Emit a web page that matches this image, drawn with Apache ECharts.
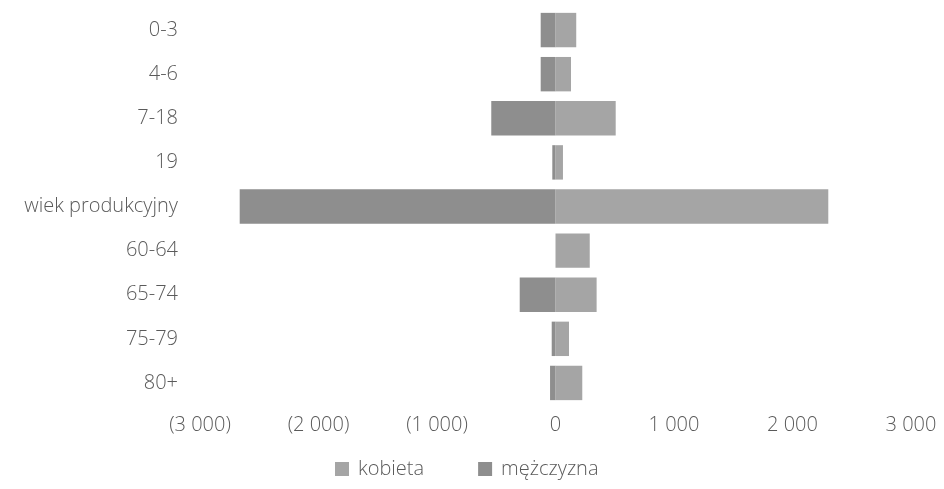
<!DOCTYPE html>
<html><head><meta charset="utf-8">
<script src="https://cdn.jsdelivr.net/npm/echarts@6/dist/echarts.min.js"></script>
<style>html,body{margin:0;padding:0;background:#fff}#c{width:944px;height:489px}</style>
</head><body><div id="c"></div>
<script>
const categories = ['0-3','4-6','7-18','19','wiek produkcyjny','60-64','65-74','75-79','80+'];
const kobieta = [175, 131, 508, 63, 2302, 289, 347, 114, 226];
const mezczyzna = [-125, -125, -542, -27, -2665, 0, -302, -32, -46];
const xTicks = {min: -3000, max: 3000, interval: 1000};

function fmt(v){
  const a = Math.abs(v);
  const s = a >= 1000 ? Math.floor(a/1000) + ' ' + String(a%1000).padStart(3,'0') : String(a);
  return v < 0 ? '(' + s + ')' : s;
}

const chart = echarts.init(document.getElementById('c'));
chart.setOption({
  backgroundColor: '#fff',
  animation: false,
  textStyle: {fontFamily: 'Open Sans'},
  grid: {left: 200, right: 33, top: 8, bottom: 84, containLabel: false},
  legend: {
    top: 454, left: 330,
    itemWidth: 14, itemHeight: 14, itemGap: 54,
    icon: 'rect',
    textStyle: {color: '#5a5a5a', fontSize: 20, fontWeight: 300, fontFamily: 'Open Sans', padding: [0,0,0,4]},
    data: ['kobieta','mężczyzna']
  },
  xAxis: {
    type: 'value', min: xTicks.min, max: xTicks.max, interval: xTicks.interval,
    axisLine: {show: false}, axisTick: {show: false}, splitLine: {show: false},
    axisLabel: {formatter: fmt, color: '#5a5a5a', fontSize: 20, fontWeight: 300, margin: 10}
  },
  yAxis: {
    type: 'category', data: categories, inverse: true,
    axisLine: {show: false}, axisTick: {show: false}, splitLine: {show: false},
    axisLabel: {color: '#5a5a5a', fontSize: 20, fontWeight: 300, margin: 22}
  },
  series: [
    {name: 'kobieta', type: 'bar', data: kobieta, barWidth: '78%', barGap: '-100%',
     itemStyle: {color: '#a5a5a5'}},
    {name: 'mężczyzna', type: 'bar', data: mezczyzna, barWidth: '78%', barGap: '-100%',
     itemStyle: {color: '#8e8e8e'}}
  ]
});
</script></body></html>
